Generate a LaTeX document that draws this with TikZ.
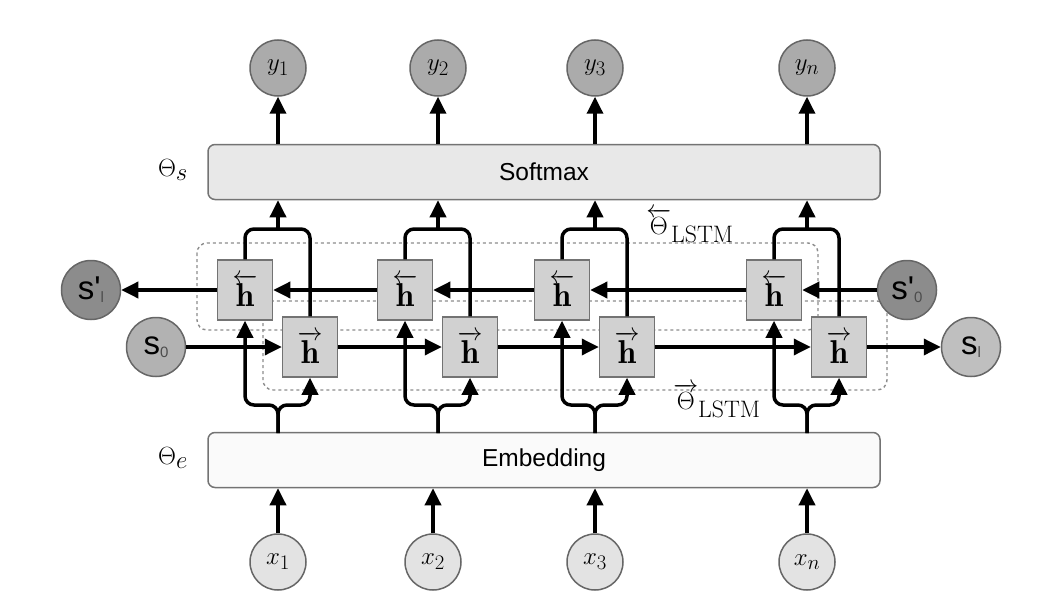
\documentclass[tikz,border=0pt]{standalone}
\usepackage{amsmath}
\usepackage{amssymb}
\usepackage{fontspec}
\usepackage{tikz}
\usetikzlibrary{arrows.meta, positioning}

\newfontfamily\arial{Liberation Sans}
\newcommand{\ssub}[1]{\raisebox{-3pt}{\fontsize{15}{16}\selectfont\color{black!70}#1}}

\begin{document}
\begin{tikzpicture}[x=1pt, y=-1pt,
    arr/.style={line width=3.5pt, -{Triangle[length=17pt,width=16pt]}},
    link/.style={line width=3.5pt},
    layer/.style={draw=black!55, line width=1.5pt, rounded corners=7pt, minimum width=672pt, minimum height=55pt, font=\arial\fontsize{24.5}{28}\selectfont},
    cell/.style={draw=black!55, fill=black!18, line width=1.5pt, minimum width=55pt, minimum height=60pt, inner sep=0pt, font=\fontsize{33}{36}\selectfont},
    outnode/.style={circle, draw=black!60, fill=black!33, line width=1.5pt, minimum size=56pt, inner sep=0pt, font=\fontsize{32}{36}\selectfont},
    innode/.style={circle, draw=black!60, fill=black!11, line width=1.5pt, minimum size=56pt, inner sep=0pt, font=\fontsize{32}{36}\selectfont},
    state/.style={circle, draw=black!60, line width=1.5pt, minimum size=59pt, inner sep=0pt, font=\arial\fontsize{33}{36}\selectfont},
    group/.style={draw=black!45, line width=1.4pt, dash pattern=on 3pt off 3pt, rounded corners=10pt},
    param/.style={font=\fontsize{34}{38}\selectfont}]
    \useasboundingbox (0,0) rectangle (1046,599);

    \draw[group] (197,243) rectangle (818,330);
    \draw[group] (263,301) rectangle (887,390);

    \node[layer, fill=black!9] (soft) at (544,172) {Softmax};
    \node[layer, fill=black!2] (emb) at (544,460) {Embedding};
    \node[param] (ts) at (173,170) {$\Theta_s$};
    \node[param] (te) at (173,458) {$\Theta_e$};
    \node[param] (tb) at (690,226) {$\overleftarrow{\Theta}_{\mathrm{LSTM}}$};
    \node[param] (tf) at (717,401) {$\overrightarrow{\Theta}_{\mathrm{LSTM}}$};

    \node[outnode] (y1) at (278,68) {$y_1$};
    \node[outnode] (y2) at (438,68) {$y_2$};
    \node[outnode] (y3) at (595,68) {$y_3$};
    \node[outnode] (y4) at (807,68) {$y_n$};

    \node[innode] (x1) at (278,562) {$x_1$};
    \node[innode] (x2) at (433,562) {$x_2$};
    \node[innode] (x3) at (595,562) {$x_3$};
    \node[innode] (x4) at (807,562) {$x_n$};

    \node[cell] (hb1) at (245,290) {$\overleftarrow{\mathbf{h}}$};
    \node[cell] (hb2) at (405,290) {$\overleftarrow{\mathbf{h}}$};
    \node[cell] (hb3) at (562,290) {$\overleftarrow{\mathbf{h}}$};
    \node[cell] (hb4) at (774,290) {$\overleftarrow{\mathbf{h}}$};
    \node[cell] (hf1) at (310,347) {$\overrightarrow{\mathbf{h}}$};
    \node[cell] (hf2) at (470,347) {$\overrightarrow{\mathbf{h}}$};
    \node[cell] (hf3) at (627,347) {$\overrightarrow{\mathbf{h}}$};
    \node[cell] (hf4) at (839,347) {$\overrightarrow{\mathbf{h}}$};

    \node[state, fill=black!45] (sl) at (91,290) {s\textquotesingle\ssub{l}};
    \node[state, fill=black!30] (s0) at (156,347) {s\ssub{0}};
    \node[state, fill=black!45] (sp0) at (907,290) {s\textquotesingle\ssub{0}};
    \node[state, fill=black!25] (sL) at (971,347) {s\ssub{l}};

    \coordinate (e1) at (278,433);
    \coordinate (e2) at (438,433);
    \coordinate (e3) at (595,433);
    \coordinate (e4) at (807,433);
    \coordinate (m1) at (278,229);
    \coordinate (m2) at (438,229);
    \coordinate (m3) at (595,229);
    \coordinate (m4) at (807,229);

    \draw[arr] (x1) -- (x1 |- emb.south);
    \draw[arr] (x2) -- (x2 |- emb.south);
    \draw[arr] (x3) -- (x3 |- emb.south);
    \draw[arr] (x4) -- (x4 |- emb.south);

    \draw[arr, rounded corners=9pt] (e1) -- ++(0,-28) -| (hb1.south);
    \draw[arr, rounded corners=9pt] (e1) -- ++(0,-28) -| (hf1.south);
    \draw[arr, rounded corners=9pt] (e2) -- ++(0,-28) -| (hb2.south);
    \draw[arr, rounded corners=9pt] (e2) -- ++(0,-28) -| (hf2.south);
    \draw[arr, rounded corners=9pt] (e3) -- ++(0,-28) -| (hb3.south);
    \draw[arr, rounded corners=9pt] (e3) -- ++(0,-28) -| (hf3.south);
    \draw[arr, rounded corners=9pt] (e4) -- ++(0,-28) -| (hb4.south);
    \draw[arr, rounded corners=9pt] (e4) -- ++(0,-28) -| (hf4.south);

    \draw[link, rounded corners=9pt] (hb1.north) |- (m1) -| (hf1.north);
    \draw[link, rounded corners=9pt] (hb2.north) |- (m2) -| (hf2.north);
    \draw[link, rounded corners=9pt] (hb3.north) |- (m3) -| (hf3.north);
    \draw[link, rounded corners=9pt] (hb4.north) |- (m4) -| (hf4.north);
    \draw[arr] (m1) -- (m1 |- soft.south);
    \draw[arr] (m2) -- (m2 |- soft.south);
    \draw[arr] (m3) -- (m3 |- soft.south);
    \draw[arr] (m4) -- (m4 |- soft.south);

    \draw[arr] (y1 |- soft.north) -- (y1);
    \draw[arr] (y2 |- soft.north) -- (y2);
    \draw[arr] (y3 |- soft.north) -- (y3);
    \draw[arr] (y4 |- soft.north) -- (y4);

    \draw[arr] (sp0) -- (hb4);
    \draw[arr] (hb4) -- (hb3);
    \draw[arr] (hb3) -- (hb2);
    \draw[arr] (hb2) -- (hb1);
    \draw[arr] (hb1) -- (sl);

    \draw[arr] (s0) -- (hf1);
    \draw[arr] (hf1) -- (hf2);
    \draw[arr] (hf2) -- (hf3);
    \draw[arr] (hf3) -- (hf4);
    \draw[arr] (hf4) -- (sL);
\end{tikzpicture}
\end{document}
